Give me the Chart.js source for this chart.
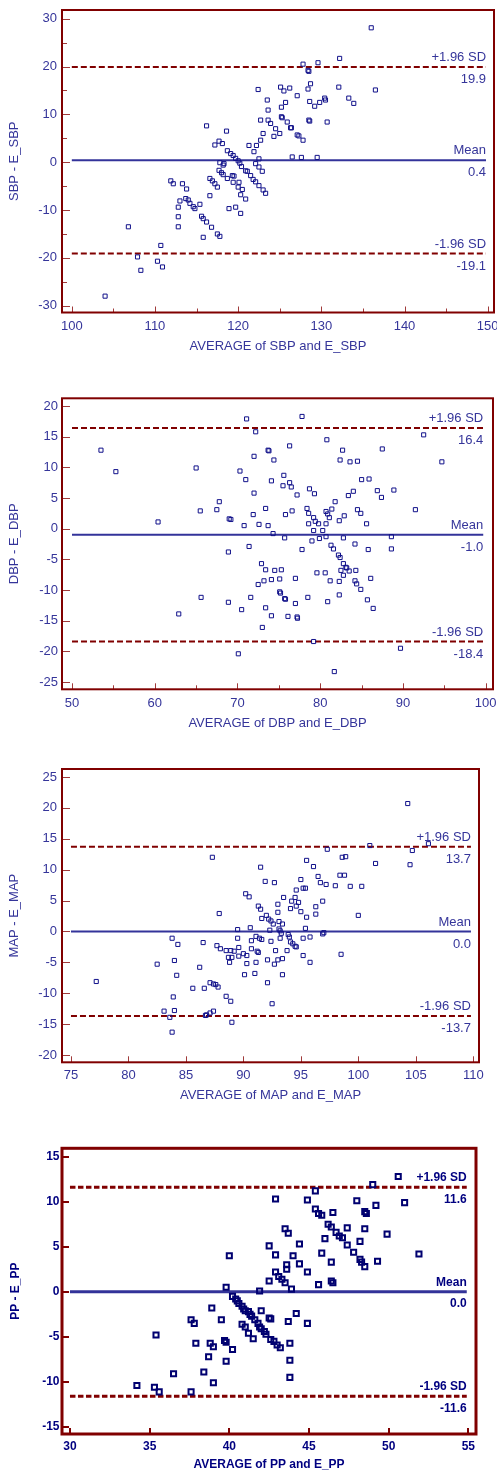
<!DOCTYPE html>
<html><head><meta charset="utf-8">
<script src="https://cdn.jsdelivr.net/npm/chart.js@4.4.1/dist/chart.umd.min.js"></script>
<style>
html,body{margin:0;padding:0;background:#fff;width:497px;height:1476px;overflow:hidden}
canvas{position:absolute;left:0}
</style></head><body>
<canvas id="c1" width="497" height="360" style="top:0px"></canvas>
<canvas id="c2" width="497" height="347" style="top:388px"></canvas>
<canvas id="c3" width="497" height="347" style="top:759px"></canvas>
<canvas id="c4" width="497" height="338" style="top:1138px"></canvas>
<script>
// ---------- SBP ----------
const sbpAvg = [136.0,127.8,129.6,132.2,128.4,128.5,128.7,128.4,122.4,125.1,
125.5,126.2,132.1,136.5,127.1,123.5,125.7,125.2,128.6,129.2,
129.8,130.4,130.5,133.3,133.9,123.6,122.7,123.6,123.9,125.2,
125.3,125.9,126.3,126.4,128.5,128.6,130.7,116.2,118.6,123.0,
124.5,125.0,124.3,127.1,127.3,127.8,122.7,121.3,122.2,121.9,
122.5,126.5,127.6,129.5,117.2,117.7,118.1,118.7,119.1,119.4,
119.7,120.0,117.8,118.3,118.2,120.2,120.4,120.9,121.1,121.5,
121.8,122.1,122.5,123.0,123.3,122.1,122.5,122.9,117.7,118.0,
118.2,118.7,119.3,119.5,119.4,120.1,120.0,120.5,120.9,120.3,
116.6,116.9,117.2,117.5,116.6,111.9,112.2,113.3,113.8,113.0,
113.7,114.0,114.2,114.6,114.8,115.4,112.8,112.8,112.8,115.6,
115.8,116.2,116.8,117.5,117.8,115.8,118.9,119.7,120.3,106.8,
110.7,107.9,110.3,110.9,108.3,104.0];
const sbpDiff = [28.1,20.5,20.8,21.7,19.2,19.0,16.4,15.3,15.2,15.7,
14.9,15.5,15.7,15.1,13.9,13.0,12.5,11.5,12.7,11.7,
12.5,13.4,13.0,13.4,12.3,10.9,8.8,8.8,8.1,9.5,
9.3,8.4,7.2,7.2,8.8,8.6,8.4,7.6,6.5,6.0,
7.0,6.0,5.4,5.7,5.5,4.6,4.6,3.5,3.5,2.2,
0.7,1.1,1.0,1.0,3.6,4.4,3.9,2.4,1.8,1.4,
0.8,0.3,-0.1,-0.3,-0.6,-0.2,-0.9,-1.8,-1.9,-2.8,
-3.6,-4.1,-4.9,-5.8,-6.5,-0.3,-1.0,-1.9,-1.7,-2.2,
-2.6,-3.4,-2.8,-2.9,-4.2,-4.2,-5.2,-5.7,-7.7,-6.8,
-3.4,-3.9,-4.5,-5.2,-7.0,-3.9,-4.5,-4.5,-5.6,-8.1,
-7.6,-7.9,-8.6,-9.3,-9.7,-8.8,-9.4,-11.4,-13.5,-11.3,
-11.8,-12.5,-13.6,-15.0,-15.5,-15.7,-9.7,-9.4,-10.7,-13.5,
-17.4,-19.8,-20.7,-21.9,-22.6,-28.0];
const sbpXTicks = [100,110,120,130,140,150];
const sbpXMinor = [105,115,125,135,145];
const sbpYTicks = [30,20,10,0,-10,-20,-30];
const sbpYMinor = [25,15,5,-5,-15,-25];
const sbpLimits = [19.9,0.4,-19.1];
const sbpLimitText = ['19.9','0.4','-19.1'];
const sbpLineX = [100,149.8];

// ---------- DBP ----------
const dbpAvg = [53.5,55.3,60.4,65.0,65.5,67.5,67.8,69.0,69.2,68.9,
65.6,68.9,62.9,70.3,71.0,71.1,72.2,72.0,72.0,71.9,
70.8,72.6,73.4,73.7,73.8,74.4,74.1,73.7,74.3,71.4,
75.6,75.5,76.3,76.5,76.3,77.2,75.8,76.6,75.7,77.8,
77.8,78.4,78.7,79.3,78.6,79.2,78.6,79.4,79.8,79.2,
79.0,79.9,80.3,80.7,80.7,80.9,81.1,81.4,81.8,80.8,
80.7,81.3,81.6,82.3,82.9,82.8,82.4,82.7,83.6,84.5,
83.4,84.0,84.5,84.9,85.6,85.0,85.9,87.5,86.9,87.4,
88.9,91.5,92.5,94.7,88.6,88.6,84.2,85.8,82.2,82.4,
82.8,83.1,83.2,82.5,82.8,83.5,84.3,84.2,84.4,84.9,
86.1,85.7,86.4,82.3,82.3,81.2,80.6,79.6,80.9,78.5,
77.0,77.0,76.1,77.2,77.25,75.3,74.5,73.4,72.9,73.2,
74.1,75.1,72.5,71.6,75.1,75.2,75.7,75.8,73.4,74.1,
73.0,70.5,79.2,70.1,89.7,81.7];
const dbpDiff = [12.8,9.3,1.1,9.9,2.9,3.1,4.4,1.6,1.5,-3.8,
-11.2,-12.0,-13.9,9.4,8.0,17.9,15.8,11.8,5.8,2.3,
0.5,0.7,3.3,12.8,12.7,11.2,7.8,0.5,-0.8,-2.9,
8.7,7.0,7.5,6.8,13.5,5.5,2.3,2.9,-1.5,18.3,
-3.4,3.3,6.5,5.7,2.5,1.8,0.8,1.2,0.8,-0.3,
-2.0,-1.6,-0.3,0.8,2.8,2.4,1.8,3.2,4.4,14.5,
-1.3,-2.7,-3.3,1.3,2.1,-1.5,11.2,12.8,10.9,11.0,
5.4,6.1,3.1,2.5,0.8,8.0,8.1,13.0,6.2,5.1,
6.3,3.1,15.3,10.9,-1.3,-3.3,-2.5,-3.4,-4.3,-4.7,
-5.7,-6.3,-6.4,-6.8,-7.6,-6.9,-6.8,-8.5,-9.0,-9.9,
-8.1,-11.6,-13.0,-8.6,-10.8,-8.5,-7.2,-7.2,-11.9,-11.2,
-8.1,-12.2,-14.3,-14.4,-14.6,-6.7,-6.8,-6.7,-5.7,-8.5,
-8.3,-8.2,-9.1,-11.2,-10.3,-10.5,-11.4,-11.5,-12.9,-14.2,
-16.1,-13.2,-18.4,-20.4,-19.5,-23.3];
const dbpXTicks = [50,60,70,80,90,100];
const dbpXMinor = [55,65,75,85,95];
const dbpYTicks = [20,15,10,5,0,-5,-10,-15,-20,-25];
const dbpYMinor = [];
const dbpLimits = [16.4,-1.0,-18.4];
const dbpLimitText = ['16.4','-1.0','-18.4'];
const dbpLineX = [50,99.7];

// ---------- MAP ----------
const mapAvg = [77.2,82.5,83.8,84.3,84.0,84.2,83.9,84.0,83.1,83.6,
83.8,86.2,85.6,86.6,86.5,87.3,87.9,87.1,87.4,87.6,
87.8,87.4,87.1,86.7,86.8,87.7,88.0,88.5,88.5,88.9,
89.0,88.7,89.0,88.8,88.9,89.2,89.5,89.5,89.6,89.6,
90.0,90.3,90.3,90.1,90.2,90.5,90.6,90.7,90.7,91.1,
91.2,91.3,91.1,91.0,91.4,91.6,91.5,91.3,91.5,91.6,
91.9,92.7,92.0,92.2,92.4,92.6,92.3,92.4,92.8,93.0,
92.7,92.1,92.1,92.5,93.4,93.4,93.8,93.0,93.0,93.5,
93.1,93.4,93.1,93.2,93.2,93.3,93.9,94.0,94.1,94.3,
94.5,94.6,94.1,94.2,94.5,94.6,94.6,94.8,95.0,95.0,
95.2,95.4,95.5,96.1,95.5,95.4,95.2,95.8,95.2,95.8,
96.3,96.3,96.5,96.7,96.9,96.9,97.0,97.2,97.3,98.0,
98.4,98.8,98.6,98.9,98.5,99.3,100.0,100.3,101.0,101.5,
104.3,104.7,104.5,106.1];
const mapDiff = [-8.1,-5.3,-1.1,-2.1,-4.7,-7.1,-10.6,-12.8,-12.9,-13.9,
-16.3,-5.8,-9.2,-9.2,-1.8,12.0,2.9,-8.3,-8.5,-8.6,
-9.0,-12.9,-13.2,-13.6,-13.5,-2.3,-2.8,-3.1,-10.5,-11.3,
-14.7,-4.2,-4.2,-5.0,-3.1,-3.2,0.3,-1.1,-2.6,-4.0,
-3.6,-3.9,-5.2,-7.0,6.1,5.6,0.6,-1.5,-2.8,-0.8,
-3.2,-3.4,-5.0,-6.8,-1.1,-1.3,10.4,4.1,3.6,2.1,
8.1,7.9,2.6,2.0,1.7,1.2,0.2,-1.6,-3.1,-4.6,
-5.3,-4.6,-8.3,-11.7,-7.0,-4.4,-3.1,3.1,4.4,5.5,
1.6,1.2,0.4,0.1,-1.1,-0.3,-0.5,-0.9,-1.7,-2.0,
-2.4,-2.5,3.7,4.9,5.5,6.7,4.1,4.7,3.2,8.4,
7.0,7.0,11.5,10.5,2.3,0.5,-1.1,-0.9,-3.9,-5.0,
2.8,4.0,8.9,7.9,4.9,-0.4,-0.2,7.6,13.3,7.4,
9.1,9.1,12.0,12.1,-3.7,7.3,2.6,7.3,13.9,11.0,
20.7,13.1,10.8,14.2];
const mapXTicks = [75,80,85,90,95,100,105,110];
const mapXMinor = [];
const mapYTicks = [25,20,15,10,5,0,-5,-10,-15,-20];
const mapYMinor = [];
const mapLimits = [13.7,0.0,-13.7];
const mapLimitText = ['13.7','0.0','-13.7'];
const mapLineX = [75,109.8];

// ---------- PP ----------
const ppAvg = [50.6,49.0,45.4,42.9,44.9,48.0,51.0,45.4,45.6,45.8,
46.5,48.5,48.6,49.2,46.2,46.4,46.7,46.9,47.1,47.4,
48.5,47.4,48.2,49.9,47.8,48.2,48.3,48.5,49.3,51.9,
46.0,45.8,46.4,46.4,46.5,45.6,44.9,44.4,44.4,44.0,
43.5,43.7,42.9,42.5,43.6,43.6,42.9,43.1,43.3,43.5,
42.5,43.9,41.9,40.0,39.8,40.2,40.4,40.5,40.6,40.8,
40.9,41.0,41.2,41.3,41.4,41.6,41.8,41.9,42.0,42.2,
42.3,42.6,42.8,43.0,43.2,42.0,42.5,42.6,40.8,41.0,
41.2,41.5,43.7,44.2,44.9,43.8,43.8,43.8,38.9,39.5,
37.6,37.8,37.9,38.8,39.0,39.7,39.8,40.2,38.7,39.8,
35.4,36.5,38.4,39.0,34.2,35.3,35.6,37.6];
const ppDiff = [12.8,11.9,11.2,10.3,10.2,10.1,9.9,9.2,8.7,8.5,
8.8,8.9,8.7,9.6,7.5,7.2,6.6,6.2,6.0,7.1,
7.0,5.2,5.6,6.4,4.4,3.6,3.3,2.8,3.4,4.2,
5.9,4.3,3.3,1.2,1.0,0.8,2.2,5.3,3.1,4.0,
7.0,6.5,4.1,5.1,3.0,2.5,2.2,1.7,1.4,1.0,
1.2,0.3,0.1,4.0,0.5,-0.5,-0.8,-1.0,-1.3,-1.6,
-1.9,-2.1,-2.2,-2.5,-2.7,-3.1,-3.5,-3.9,-4.1,-4.4,
-4.7,-5.3,-5.5,-5.9,-6.2,-2.1,-2.9,-3.0,-3.6,-3.9,
-4.6,-5.2,-3.3,-2.4,-3.5,-5.7,-7.6,-9.5,-1.8,-3.1,
-3.1,-3.5,-5.7,-5.7,-6.1,-5.4,-5.6,-6.4,-7.2,-7.7,
-4.8,-9.1,-8.9,-10.1,-10.4,-10.6,-11.1,-11.1];
const ppXTicks = [30,35,40,45,50,55];
const ppXMinor = [];
const ppYTicks = [15,10,5,0,-5,-10,-15];
const ppYMinor = [];
const ppLimits = [11.6,0.0,-11.6];
const ppLimitText = ['11.6','0.0','-11.6'];
const ppLineX = [30,54.9];

const limitNames = ['+1.96 SD','Mean','-1.96 SD'];

Chart.defaults.font.family = "'Liberation Sans', Arial, sans-serif";

function makeFrame(c) {
  return {
    id: 'frame_' + c.id,
    afterDatasetsDraw(chart) {
      const {ctx, chartArea: a, scales: {x, y}} = chart;
      ctx.save();
      ctx.strokeStyle = c.tickColor; ctx.lineWidth = c.tickWidth;
      ctx.beginPath();
      const hy = v => Math.round(y.getPixelForValue(v)) + (c.tickWidth % 2 ? 0.5 : 0);
      const hx = v => Math.round(x.getPixelForValue(v)) + (c.tickWidth % 2 ? 0.5 : 0);
      c.yTicks.forEach(v => { const p = hy(v); ctx.moveTo(a.left, p); ctx.lineTo(a.left + c.yMajorLen, p); });
      c.yMinor.forEach(v => { const p = hy(v); ctx.moveTo(a.left, p); ctx.lineTo(a.left + c.yMinorLen, p); });
      c.xTicks.forEach(v => { const p = hx(v); ctx.moveTo(p, a.bottom); ctx.lineTo(p, a.bottom - c.xMajorLen); });
      c.xMinor.forEach(v => { const p = hx(v); ctx.moveTo(p, a.bottom); ctx.lineTo(p, a.bottom - c.xMinorLen); });
      ctx.stroke();
      ctx.strokeStyle = c.frameColor; ctx.lineWidth = c.frameWidth;
      ctx.strokeRect(a.left, a.top, a.right - a.left, a.bottom - a.top);
      ctx.fillStyle = c.textColor;
      ctx.font = c.fontCss;
      ctx.textAlign = 'right'; ctx.textBaseline = 'middle';
      const tx = x.getPixelForValue(c.lineX[1]);
      c.limits.forEach((v, i) => {
        const py = y.getPixelForValue(v);
        ctx.fillText(limitNames[i], tx, py - c.above);
        ctx.fillText(c.limitText[i], tx, py + c.below);
      });
      ctx.restore();
    }
  };
}

function makeChart(c) {
  const font = {size: c.fontSize, weight: c.bold ? 'bold' : 'normal', family: "'Liberation Sans', Arial, sans-serif"};
  const pts = c.avg.map((v, i) => ({x: v, y: c.diff[i]}));
  const lineDs = (v, i) => ({
    data: [{x: c.lineX[0], y: v}, {x: c.lineX[1], y: v}],
    showLine: true, pointRadius: 0, pointHoverRadius: 0,
    borderColor: i === 1 ? c.meanColor : c.sdColor,
    borderWidth: c.lineWidth,
    borderDash: i === 1 ? [] : c.dash,
    order: 2
  });
  new Chart(document.getElementById(c.id), {
    type: 'scatter',
    data: {
      datasets: [
        {data: pts, pointStyle: 'rect', pointRadius: c.pointR, pointHoverRadius: c.pointR,
         borderColor: c.pointColor, backgroundColor: 'rgba(255,255,255,0)', pointBorderWidth: c.pointBW, borderWidth: c.pointBW, order: 1},
        ...c.limits.map(lineDs)
      ]
    },
    options: {
      responsive: false, animation: false, events: [], devicePixelRatio: 1,
      layout: {padding: {top: c.padTop, right: c.padRight, left: 0, bottom: 0}, autoPadding: false},
      plugins: {legend: {display: false}, tooltip: {enabled: false}},
      scales: {
        x: {
          type: 'linear', position: 'bottom', min: c.xMin, max: c.xMax,
          grid: {display: false, drawTicks: false}, border: {display: false},
          afterBuildTicks: s => { s.ticks = c.xTicks.map(v => ({value: v})); },
          afterFit: s => { s.height = c.xScaleH; s.paddingLeft = 0; s.paddingRight = 0; },
          ticks: {autoSkip: false, maxRotation: 0, minRotation: 0, padding: c.xTickPad, color: c.textColor, font: font,
                  callback: v => String(v)},
          title: {display: true, text: c.xTitle, color: c.textColor, font: font, padding: {top: 0, bottom: c.xTitlePB}}
        },
        y: {
          type: 'linear', position: 'left', min: c.yMin, max: c.yMax,
          grid: {display: false, drawTicks: false}, border: {display: false},
          afterBuildTicks: s => { s.ticks = c.yTicks.map(v => ({value: v})); },
          afterFit: s => { s.width = 62; s.paddingTop = 0; s.paddingBottom = 0; },
          ticks: {autoSkip: false, padding: c.yTickPad, color: c.textColor, font: font, callback: v => String(v)},
          title: {display: true, text: c.yTitle, color: c.textColor, font: font, padding: {top: c.yTitlePad, bottom: 0}}
        }
      }
    },
    plugins: [makeFrame(c)]
  });
}

const thin = {
  fontSize: 13, bold: false, fontCss: "13px 'Liberation Sans', Arial, sans-serif",
  textColor: '#35359a', pointColor: '#10108a', meanColor: '#33339a', sdColor: '#800000',
  frameColor: '#800000', frameWidth: 2, tickColor: '#a03a3a', tickWidth: 1,
  lineWidth: 2, dash: [6, 3], pointR: 2.9, pointBW: 1,
  yMajorLen: 8, yMinorLen: 5, xMajorLen: 6, xMinorLen: 4, above: 9.5, below: 12.5
};

makeChart(Object.assign({}, thin, {
  id: 'c1', avg: sbpAvg, diff: sbpDiff, xTicks: sbpXTicks, xMinor: sbpXMinor, yTicks: sbpYTicks, yMinor: sbpYMinor,
  limits: sbpLimits, limitText: sbpLimitText, lineX: sbpLineX,
  xTitle: 'AVERAGE of SBP and E_SBP', yTitle: 'SBP - E_SBP',
  padTop: 10, padRight: 3, xMin: 98.82, xMax: 150.76, yMin: -31.42, yMax: 31.82,
  xScaleH: 47.5, xTitlePB: 5.5, xTickPad: 6.4, yTickPad: 5, yTitlePad: 6.7
}));
makeChart(Object.assign({}, thin, {
  id: 'c2', avg: dbpAvg, diff: dbpDiff, xTicks: dbpXTicks, xMinor: dbpXMinor, yTicks: dbpYTicks, yMinor: dbpYMinor,
  limits: dbpLimits, limitText: dbpLimitText, lineX: dbpLineX,
  xTitle: 'AVERAGE of DBP and E_DBP', yTitle: 'DBP - E_DBP',
  padTop: 10.3, padRight: 4, xMin: 48.79, xMax: 100.88, yMin: -26.19, yMax: 21.26,
  xScaleH: 45.7, xTitlePB: 3.7, xTickPad: 6.2, yTickPad: 4, yTitlePad: 6.7
}));
makeChart(Object.assign({}, thin, {
  id: 'c3', avg: mapAvg, diff: mapDiff, xTicks: mapXTicks, xMinor: mapXMinor, yTicks: mapYTicks, yMinor: mapYMinor,
  limits: mapLimits, limitText: mapLimitText, lineX: mapLineX,
  xTitle: 'AVERAGE of MAP and E_MAP', yTitle: 'MAP - E_MAP',
  padTop: 10, padRight: 18, xMin: 74.22, xMax: 110.5, yMin: -21.18, yMax: 26.29,
  xScaleH: 43.7, xTitlePB: 3.2, xTickPad: 5.6, yTickPad: 5, yTitlePad: 6.7
}));
makeChart({
  fontSize: 12, bold: true, fontCss: "bold 12px 'Liberation Sans', Arial, sans-serif",
  textColor: '#000080', pointColor: '#000070', meanColor: '#333399', sdColor: '#800000',
  frameColor: '#800000', frameWidth: 3, tickColor: '#800000', tickWidth: 2,
  lineWidth: 3, dash: [5.5, 2.5], pointR: 3.6, pointBW: 2,
  yMajorLen: 7, yMinorLen: 4, xMajorLen: 6, xMinorLen: 4, above: 9.3, below: 12.3,
  id: 'c4', avg: ppAvg, diff: ppDiff, xTicks: ppXTicks, xMinor: ppXMinor, yTicks: ppYTicks, yMinor: ppYMinor,
  limits: ppLimits, limitText: ppLimitText, lineX: ppLineX,
  xTitle: 'AVERAGE of PP and E_PP', yTitle: 'PP - E_PP',
  padTop: 10.3, padRight: 21, xMin: 29.5, xMax: 55.48, yMin: -15.78, yMax: 15.93,
  xScaleH: 42, xTitlePB: 3.8, xTickPad: 5.5, yTickPad: 2.5, yTitlePad: 8.8
});
</script>
</body></html>
